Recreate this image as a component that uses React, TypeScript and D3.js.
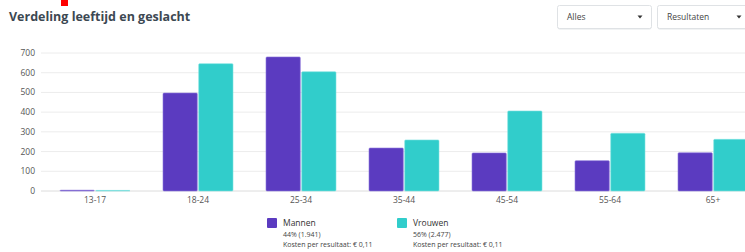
import * as d3 from "d3";

const ageGroups = ["13-17", "18-24", "25-34", "35-44", "45-54", "55-64", "65+"];
const series = ["Mannen", "Vrouwen"];
const mannen = [4, 497, 680, 218, 193, 154, 194];
const vrouwen = [3, 646, 605, 259, 406, 293, 262];
const yTicks = [0, 100, 200, 300, 400, 500, 600, 700];
const legendShares = ["44% (1.941)", "56% (2.477)"];
const legendCost = ["Kosten per resultaat: € 0,11", "Kosten per resultaat: € 0,11"];
const colors = ["#5b3bc0", "#31cdcb"];
const edgeColors = ["#8c76dc", "#7ee3e0"];

export default function App() {
  const width = 745;
  const height = 252;
  const font = "'Open Sans', sans-serif";

  const x0 = d3.scaleBand().domain(ageGroups).range([43.5, 764.5]).paddingInner(0).paddingOuter(0);
  const x1 = d3.scaleBand().domain(series).range([-35, 35]).paddingInner(0.04);
  const y = d3.scaleLinear().domain([0, 700]).range([191, 53]);
  const vals = [mannen, vrouwen];

  return (
    <svg width={width} height={height} style={{ position: "absolute", left: 0, top: 0, background: "#fff" }}>
      <rect x={61} y={0} width={7} height={6} fill="#ff0000" />
      <text x={9} y={21} fontFamily={font} fontWeight="bold" fontSize={12.5} fill="#3c4852">
        Verdeling leeftijd en geslacht
      </text>

      {/* dropdowns */}
      <rect x={557.5} y={6.5} width={94} height={23} rx={2} fill="#e4e7ea" />
      <rect x={557.5} y={5.5} width={94} height={23} rx={2} fill="#fff" stroke="#dfe2e5" />
      <text x={567} y={20} fontFamily={font} fontSize={8.5} fill="#444">Alles</text>
      <path d="M637.5,15.5 L642.5,15.5 L640,18.5 Z" fill="#333" />
      <rect x={657.5} y={6.5} width={100} height={23} rx={2} fill="#e4e7ea" />
      <rect x={657.5} y={5.5} width={100} height={23} rx={2} fill="#fff" stroke="#dfe2e5" />
      <text x={667} y={20} fontFamily={font} fontSize={8.5} fill="#444">Resultaten</text>
      <path d="M736.5,15.5 L741.5,15.5 L739,18.5 Z" fill="#333" />

      {/* grid + y labels */}
      {yTicks.map(t => (
        <g key={t}>
          <line x1={41} x2={745} y1={y(t)} y2={y(t)} stroke={t === 0 ? "#dcdcdc" : "#ececec"} strokeWidth={1} />
          <text x={35} y={y(t) + 3} textAnchor="end" fontFamily={font} fontSize={8.5} fill="#555">{t}</text>
        </g>
      ))}

      {/* bars */}
      {ageGroups.map((g, i) => (
        <g key={g} transform={`translate(${x0(g)! + x0.bandwidth() / 2},0)`}>
          {series.map((s, j) => {
            const v = vals[j][i];
            return (
              <rect key={s} x={x1(s)!} y={y(v)} width={x1.bandwidth()} height={y(0) - y(v)}
                fill={colors[j]} stroke={edgeColors[j]} strokeWidth={0.6} rx={1} />
            );
          })}
          <text x={0} y={203} textAnchor="middle" fontFamily={font} fontSize={8.5} fill="#555">{g}</text>
        </g>
      ))}

      {/* legend */}
      {series.map((s, j) => {
        const lx = 267 + j * 130;
        return (
          <g key={s}>
            <rect x={lx} y={218} width={10} height={10} fill={colors[j]} rx={1} />
            <text x={lx + 16} y={226} fontFamily={font} fontSize={8.5} fill="#333">{s}</text>
            <text x={lx + 16} y={237} fontFamily={font} fontSize={7} fill="#444">{legendShares[j]}</text>
            <text x={lx + 16} y={247} fontFamily={font} fontSize={7} fill="#444">{legendCost[j]}</text>
          </g>
        );
      })}
    </svg>
  );
}
